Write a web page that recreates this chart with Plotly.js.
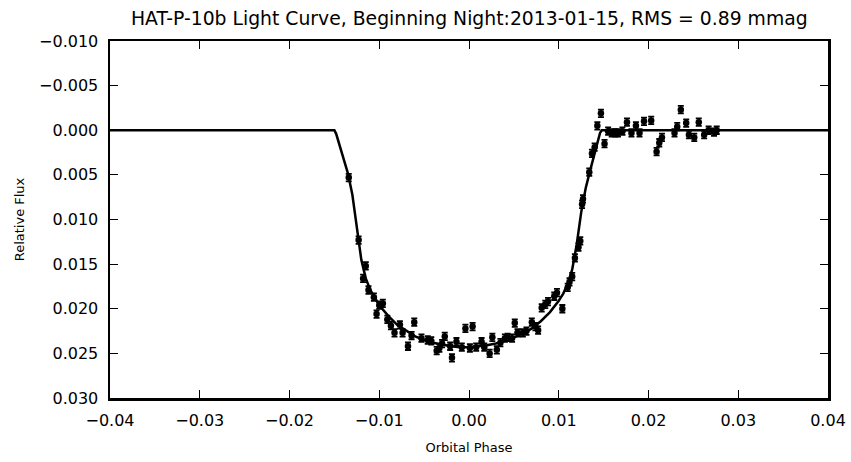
<!DOCTYPE html>
<html>
<head>
<meta charset="utf-8">
<script src="https://cdn.plot.ly/plotly-3.0.1.min.js"></script>
<style>html,body{margin:0;padding:0;background:#fff;}#chart{width:851px;height:462px;}</style>
</head>
<body>
<div id="chart"></div>
<script>
var phase = [-0.0134,-0.0123,-0.0115,-0.0118,-0.0112,-0.0106,-0.0100,-0.0096,-0.0103,-0.0091,
  -0.0087,-0.0083,-0.0077,-0.0074,-0.0068,-0.0061,-0.0064,-0.0053,-0.0046,-0.0042,
  -0.0036,-0.0033,-0.0027,-0.0030,-0.0019,-0.0021,-0.0014,-0.0008,-0.0004,0.0004,
  0.0001,0.0008,0.0014,0.0017,0.0023,0.0026,0.0031,0.0035,0.0040,0.0043,
  0.0048,0.0051,0.0054,0.0060,0.0064,0.0070,0.0074,0.0077,0.0081,0.0085,
  0.0088,0.0095,0.0098,0.0104,0.0110,0.0112,0.0115,0.0118,0.0122,0.0124,
  0.0126,0.0127,0.0134,0.0137,0.0140,0.0143,0.0147,0.0151,0.0155,0.0159,
  0.0163,0.0166,0.0171,0.0176,0.0181,0.0186,0.0190,0.0195,0.0203,0.0209,
  0.0212,0.0215,0.0229,0.0232,0.0236,0.0242,0.0245,0.0251,0.0256,0.0262,
  0.0267,0.0273,0.0276];
var flux = [0.0053,0.0123,0.0152,0.0166,0.0179,0.0187,0.0196,0.0194,0.0206,0.0212,
  0.0219,0.0227,0.0218,0.0227,0.0242,0.0215,0.0230,0.0233,0.0235,0.0236,
  0.0247,0.0244,0.0231,0.0239,0.0255,0.0242,0.0237,0.0243,0.0222,0.0220,
  0.0244,0.0243,0.0237,0.0243,0.0250,0.0232,0.0246,0.0238,0.0233,0.0232,
  0.0233,0.0216,0.0227,0.0227,0.0225,0.0215,0.0220,0.0224,0.0199,0.0195,
  0.0192,0.0186,0.0182,0.0200,0.0176,0.0170,0.0164,0.0143,0.0131,0.0124,
  0.0083,0.0077,0.0047,0.0026,0.0019,-0.0005,-0.0019,0.0015,0.0001,0.0003,
  0.0003,0.0003,0.0001,-0.0009,0.0003,-0.0005,0.0003,-0.0010,-0.0011,0.0024,
  0.0014,0.0008,0.0003,-0.0004,-0.0023,-0.0008,0.0005,0.0008,-0.0009,0.0005,
  0.0000,0.0002,0.0000];
var fluxErr = 0.00042;

var modelPhase = [-0.040,-0.0152,-0.0150,-0.0148,-0.0145,-0.0140,-0.0135,-0.0130,-0.0125,-0.0120,
  -0.0115,-0.0110,-0.0100,-0.0090,-0.0080,-0.0070,-0.0060,-0.0050,-0.0040,-0.0030,
  -0.0020,-0.0010,0.0000,0.0010,0.0020,0.0030,0.0040,0.0050,0.0060,0.0070,
  0.0080,0.0090,0.0100,0.0105,0.0110,0.0115,0.0120,0.0125,0.0130,0.0135,
  0.0140,0.0143,0.0146,0.0148,0.040];
var modelFlux = [0,0,0.0000,0.0004,0.0014,0.0030,0.0048,0.0072,0.0108,0.0145,
  0.0166,0.0179,0.0196,0.0208,0.0218,0.0225,0.0231,0.0235,0.0238,0.0240,
  0.0242,0.0243,0.0243,0.0242,0.0241,0.0239,0.0236,0.0232,0.0228,0.0222,
  0.0214,0.0204,0.0191,0.0183,0.0172,0.0156,0.0128,0.0092,0.0065,0.0045,
  0.0025,0.0012,0.0003,0.0000,0];

var xTicks = [-0.04,-0.03,-0.02,-0.01,0.00,0.01,0.02,0.03,0.04];
var yTicks = [-0.010,-0.005,0.000,0.005,0.010,0.015,0.020,0.025,0.030];

var font = 'DejaVu Sans, sans-serif';

var traces = [
  {x: modelPhase, y: modelFlux, type: 'scatter', mode: 'lines',
   line: {color: '#000', width: 2.5}, hoverinfo: 'skip'},
  {x: phase, y: flux, type: 'scatter', mode: 'markers',
   marker: {color: '#000', size: 6.5},
   error_y: {type: 'constant', value: fluxErr, color: '#000', thickness: 1.8, width: 3}}
];

var axisCommon = {
  showgrid: false, zeroline: false, showline: true, linecolor: '#000', linewidth: 2.5,
  mirror: 'ticks', ticks: 'inside', ticklen: 8, tickwidth: 1, tickcolor: '#000',
  tickfont: {family: font, size: 16, color: '#000'}, ticklabelstandoff: 6
};

var layout = {
  width: 851, height: 462,
  margin: {l: 110, r: 23, t: 41, b: 64},
  paper_bgcolor: '#fff', plot_bgcolor: '#fff',
  showlegend: false,
  font: {family: font, color: '#000'},
  title: {text: 'HAT-P-10b Light Curve, Beginning Night:2013-01-15, RMS = 0.89 mmag',
    font: {family: font, size: 18.8, color: '#000'}, x: 0.5515, xanchor: 'center', y: 0.96, yanchor: 'middle'},
  xaxis: Object.assign({}, axisCommon, {
    range: [-0.04, 0.04], tickvals: xTicks, tickformat: '.2f',
    title: {text: 'Orbital Phase', font: {family: font, size: 13, color: '#000'}, standoff: 14}
  }),
  yaxis: Object.assign({}, axisCommon, {
    range: [0.030, -0.010], tickvals: yTicks, tickformat: '.3f',
    title: {text: 'Relative Flux', font: {family: font, size: 13, color: '#000'}, standoff: 12}
  })
};

Plotly.newPlot('chart', traces, layout, {displayModeBar: false, staticPlot: true});
</script>
</body>
</html>
